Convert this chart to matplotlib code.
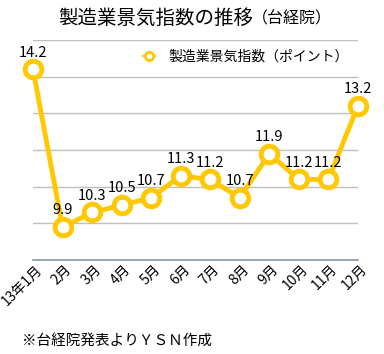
import matplotlib
matplotlib.use("Agg")
import matplotlib.pyplot as plt
import matplotlib.transforms as mtransforms
from matplotlib.lines import Line2D

plt.rcParams["font.family"] = ["Noto Sans CJK JP", "DejaVu Sans"]

months = ["13年1月", "2月", "3月", "4月", "5月", "6月", "7月", "8月", "9月", "10月", "11月", "12月"]
index_values = [14.2, 9.9, 10.3, 10.5, 10.7, 11.3, 11.2, 10.7, 11.9, 11.2, 11.2, 13.2]
value_labels = ["14.2", "9.9", "10.3", "10.5", "10.7", "11.3", "11.2", "10.7", "11.9", "11.2", "11.2", "13.2"]

GOLD = "#FFC800"

fig = plt.figure(figsize=(3.84, 3.54), dpi=100)
ax = fig.add_axes([0.086, 0.265, 0.846, 0.622])

x = list(range(len(months)))
ax.plot(x, index_values, color=GOLD, lw=3.5, marker="o", ms=12,
        mfc="white", mec=GOLD, mew=3.5, zorder=3, clip_on=False)

for xi, v, lab in zip(x, index_values, value_labels):
    ax.annotate(lab, (xi, v), xytext=(0, 7), textcoords="offset points",
                ha="center", va="bottom", fontsize=10.5, color="black",
                zorder=4, annotation_clip=False)

ax.set_xlim(0, len(months) - 1)
ax.set_ylim(9, 15)
ax.set_yticks([10, 11, 12, 13, 14, 15])
ax.yaxis.grid(True, color="#BFBFBF", lw=1)
ax.set_axisbelow(True)
ax.tick_params(axis="y", left=False, labelleft=False)
ax.tick_params(axis="x", length=0, pad=5)
ax.set_xticks(x)
ax.set_xticklabels(months, rotation=45, ha="right", va="center",
                   rotation_mode="anchor", fontsize=10)
# nudge rotated month labels a little to the right
shift = mtransforms.ScaledTranslation(7 / 100, 0, fig.dpi_scale_trans)
for lbl in ax.get_xticklabels():
    lbl.set_transform(lbl.get_transform() + shift)
for side in ("top", "left", "right"):
    ax.spines[side].set_visible(False)
ax.spines["bottom"].set_color("#8A94A8")
ax.spines["bottom"].set_linewidth(1.2)

handle = Line2D([0], [0], color=GOLD, lw=1.5, marker="o", ms=6,
                mfc="white", mec=GOLD, mew=2)
ax.legend([handle], ["製造業景気指数（ポイント）"], loc="center left",
          bbox_to_anchor=(0.3, 0.923), frameon=False, fontsize=10,
          handlelength=0.9, handletextpad=0.9)

fig.text(0.151, 0.948, "製造業景気指数の推移", fontsize=14,
         ha="left", va="center")
fig.text(0.655, 0.946, "（台経院）", fontsize=11.5,
         ha="left", va="center")
fig.text(0.057, 0.037, "※台経院発表よりＹＳＮ作成", fontsize=10.5,
         ha="left", va="center")

fig.savefig("out.png", dpi=100)
